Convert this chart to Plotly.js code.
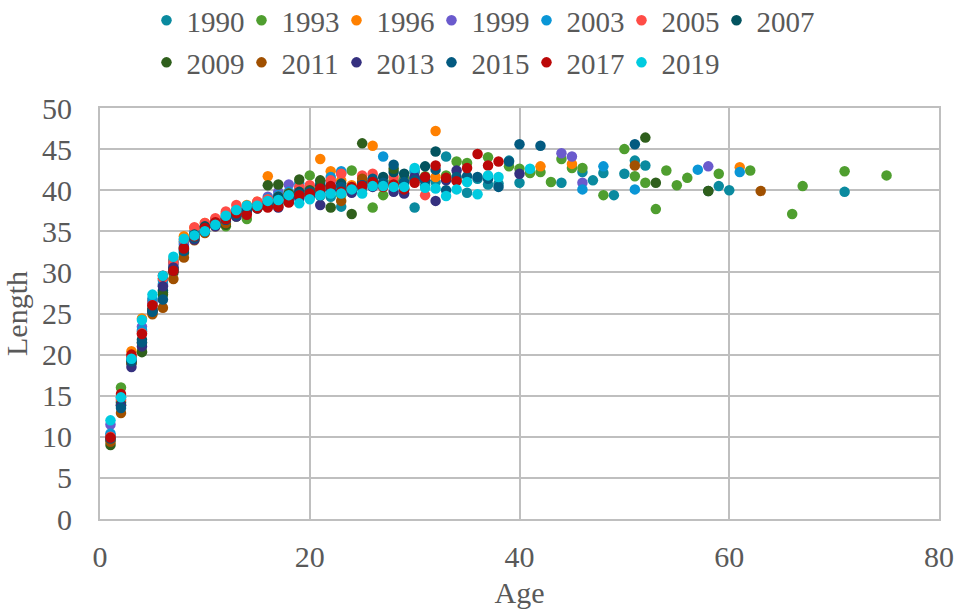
<!DOCTYPE html>
<html><head><meta charset="utf-8">
<script src="https://cdn.plot.ly/plotly-3.0.1.min.js"></script>
<style>html,body{margin:0;padding:0;background:#fff}</style></head>
<body><div id="chart" style="width:956px;height:610px"></div>
<script>
const years=["1990","1993","1996","1999","2003","2005","2007","2009","2011","2013","2015","2017","2019"];
const colors=["#0a8a9f","#4f9e2f","#ff8000","#6a5acd","#0a96d6","#ff4c46","#03535f","#2f5f1c","#a05000","#35307f","#035a80","#bb0808","#00cbe0"];
const age1990=[1,2,3,4,5,6,7,8,9,10,11,12,13,14,15,16,17,18,19,20,21,22,23,24,25,26,27,28,29,30,31,32,33,34,35,36,37,38,39,40,44,46,47,48,49,50,51,52,59,60,71];
const len1990=[10.2,14.2,19.4,22.8,26.2,28.6,31.2,33.6,34.9,35.5,35.9,36.2,37.0,37.6,38.0,38.4,38.7,39.0,39.3,39.6,39.3,39.2,38.0,39.8,40.2,40.6,40.7,41.0,41.0,37.9,40.6,41.0,44.1,41.2,39.7,41.4,40.7,40.8,43.6,40.9,40.9,42.2,41.2,42.1,39.4,42.0,43.6,43.0,40.5,40.0,39.8];
const age1993=[2,3,4,5,6,7,8,9,10,11,12,13,14,15,16,17,18,19,20,21,22,23,24,26,27,28,29,30,31,33,34,35,37,39,40,41,42,43,44,45,46,48,50,51,52,53,54,55,56,59,62,66,67,71,75];
const len1993=[16.0,19.6,20.4,25.2,27.6,30.6,33.1,34.6,35.6,35.9,35.6,37.0,36.5,37.8,38.4,38.2,39.6,40.2,41.8,40.6,40.0,39.4,42.4,37.9,39.4,41.2,41.4,42.2,41.7,41.8,43.5,43.3,44.0,42.9,42.6,42.1,42.2,41.0,43.8,42.7,42.7,39.4,45.0,41.7,40.9,37.7,42.4,40.6,41.5,42.0,42.4,37.1,40.5,42.3,41.8];
const age1996=[2,3,4,5,6,7,8,9,10,11,12,13,14,15,16,17,18,19,20,21,22,23,24,26,32,32,34,42,45,61];
const len1996=[14.6,20.4,24.4,26.6,29.2,31.6,34.4,35.4,36.0,36.4,37.2,37.6,38.2,38.6,41.7,39.2,39.6,39.8,40.0,43.8,42.3,41.2,40.6,45.4,47.2,41.6,41.4,42.9,43.2,42.8];
const age1999=[1,2,3,4,5,6,7,8,9,10,11,12,13,14,15,16,17,18,19,20,21,22,23,24,44,45,46,58];
const len1999=[11.5,14.6,19.2,23.4,26.4,28.4,31.0,33.4,34.8,35.6,36.4,37.0,37.6,37.9,38.4,39.2,39.8,40.7,40.2,40.0,39.6,41.0,42.1,40.2,44.5,44.1,40.9,42.9];
const age2003=[1,2,3,4,5,6,7,8,9,10,11,12,13,14,15,16,17,18,19,20,21,22,23,27,30,46,48,51,57,61];
const len2003=[10.4,14.8,19.6,23.0,26.8,29.0,31.4,33.8,34.8,35.4,36.2,36.8,37.4,38.1,38.4,39.0,39.4,39.8,40.8,40.4,41.0,41.6,42.3,44.1,42.4,40.1,42.9,40.1,42.5,42.2];
const age2005=[1,2,3,4,5,6,7,8,9,10,11,12,13,14,15,16,17,18,19,20,21,22,23,25,26,27,28,29,30,31,33];
const len2005=[10.0,14.4,19.8,22.6,26.0,29.3,31.2,34.0,35.5,36.0,36.6,37.4,38.2,38.0,38.6,38.9,39.2,39.6,40.4,40.6,40.0,41.2,42.0,41.8,42.0,41.0,41.6,41.0,41.5,39.4,41.4];
const age2007=[1,2,3,4,5,6,7,8,9,10,11,12,13,14,15,16,17,18,19,20,21,22,23,24,25,26,27,28,29,30,31,32,58];
const len2007=[9.6,13.8,19.0,21.8,25.6,27.8,30.4,32.8,34.6,35.6,36.0,36.6,37.2,37.8,38.0,38.6,39.2,39.0,39.8,39.6,40.6,40.4,40.8,39.9,41.0,41.2,41.6,42.2,42.0,41.4,42.9,44.7,39.9];
const age2009=[1,2,3,4,5,6,7,8,9,10,11,12,13,14,15,16,17,18,19,20,21,22,24,25,26,27,28,29,31,52,53,58];
const len2009=[9.0,14.0,19.0,20.3,25.4,27.3,30.0,32.4,34.4,35.2,35.7,35.8,36.8,37.5,38.0,40.6,40.7,39.6,41.3,40.0,41.2,37.9,37.1,45.7,41.0,40.6,42.6,40.2,41.2,46.4,40.9,39.9];
const age2011=[1,2,3,4,5,6,7,8,9,10,11,12,13,14,15,16,17,18,19,20,21,22,23,24,25,26,27,28,51,63];
const len2011=[9.4,12.9,19.0,21.4,24.9,25.7,29.2,31.8,33.9,34.8,35.6,36.0,37.0,37.4,37.9,38.2,38.6,39.0,39.2,39.4,40.0,40.4,38.7,40.0,41.4,40.8,40.6,40.6,43.0,39.9];
const age2013=[2,3,4,5,6,7,8,9,10,11,12,13,14,15,16,17,18,19,20,21,22,23,24,25,26,27,28,29,30,31,32,33,34,40];
const len2013=[13.8,18.5,21.0,25.3,28.3,30.6,33.0,34.0,35.0,35.6,36.4,36.8,37.4,37.8,38.0,37.9,38.6,39.0,39.2,38.2,40.0,39.9,39.7,40.6,40.4,40.8,39.8,39.6,41.6,41.2,38.7,41.2,42.4,42.0];
const age2015=[1,2,3,4,5,6,7,8,9,10,11,12,13,14,15,16,17,18,19,20,21,22,23,24,25,26,27,28,29,30,31,32,33,34,35,36,37,38,39,40,42,51];
const len2015=[9.8,13.5,19.2,21.5,25.2,26.7,30.2,32.6,34.2,35.0,35.8,36.4,37.0,37.6,37.8,38.2,38.4,39.2,39.5,39.8,39.6,40.4,40.4,40.2,40.6,41.4,40.9,43.1,41.0,41.2,41.2,42.5,40.0,41.6,41.7,41.6,41.4,40.4,43.5,45.6,45.4,45.6];
const age2017=[1,2,3,4,5,6,7,8,9,10,11,12,13,14,15,16,17,18,19,20,21,22,23,24,25,26,27,28,29,30,31,32,33,34,35,36,37,38];
const len2017=[9.9,15.2,20.0,22.5,26.0,29.6,30.2,32.9,34.4,35.4,36.1,36.5,37.2,37.0,37.8,37.9,38.0,38.5,39.4,39.6,40.2,40.5,39.8,40.4,40.5,41.0,40.4,40.7,40.1,40.9,41.6,43.0,41.5,41.1,42.7,44.4,43.0,43.5];
const age2019=[1,2,3,4,5,6,7,8,9,10,11,12,13,14,15,16,17,18,19,20,21,22,23,24,25,26,27,28,29,30,31,32,33,34,35,36,37,38,41];
const len2019=[12.0,14.8,19.5,24.2,27.3,29.6,31.9,34.1,34.5,35.0,35.8,36.9,37.6,38.1,38.1,38.7,38.8,39.4,38.4,38.9,39.4,39.6,39.6,40.1,39.6,40.5,40.5,40.4,40.4,42.7,40.3,40.2,39.3,40.1,41.0,39.5,41.8,41.6,42.6];
const ages=[age1990,age1993,age1996,age1999,age2003,age2005,age2007,age2009,age2011,age2013,age2015,age2017,age2019];
const lens=[len1990,len1993,len1996,len1999,len2003,len2005,len2007,len2009,len2011,len2013,len2015,len2017,len2019];
const xTicks=[0,20,40,60,80];
const yTicks=[0,5,10,15,20,25,30,35,40,45,50];
const fnt="Liberation Serif",txt="#595959",grid="#bfbfbf";
const data=years.map((y,i)=>({type:"scatter",mode:"markers",name:y,x:ages[i],y:lens[i],legend:i<7?"legend":"legend2",legendwidth:(i===6||i===12)?64:undefined,marker:{size:10.5,color:colors[i],line:{width:0}}}));
const leg=(yPos)=>({orientation:"h",x:0.0554,y:yPos,xanchor:"left",yanchor:"top",font:{family:fnt,size:29,color:txt},entrywidthmode:"pixels",entrywidth:50,itemclick:false,bgcolor:"rgba(0,0,0,0)"});
const layout={width:956,height:610,margin:{l:99.5,r:17,t:108,b:91,pad:0,autoexpand:false},paper_bgcolor:"#fff",plot_bgcolor:"#fff",
 font:{family:fnt,size:30,color:txt},showlegend:true,
 legend:leg(1.275),legend2:leg(1.1727),
 xaxis:{range:[0,80],tickvals:xTicks,ticks:"",ticklabelstandoff:10,showgrid:true,gridcolor:grid,gridwidth:2,showline:true,linecolor:grid,linewidth:2,mirror:true,zeroline:false,
  tickfont:{family:fnt,size:30,color:txt},title:{text:"Age",font:{family:fnt,size:30,color:txt},standoff:10},automargin:false},
 yaxis:{range:[0,50],tickvals:yTicks,ticks:"",ticklabelstandoff:20,showgrid:true,gridcolor:grid,gridwidth:2,showline:true,linecolor:grid,linewidth:2,mirror:true,zeroline:false,
  tickfont:{family:fnt,size:30,color:txt},title:{text:"Length",font:{family:fnt,size:30,color:txt},standoff:6},automargin:false}};
Plotly.newPlot("chart",data,layout,{displayModeBar:false,staticPlot:true});
</script></body></html>
